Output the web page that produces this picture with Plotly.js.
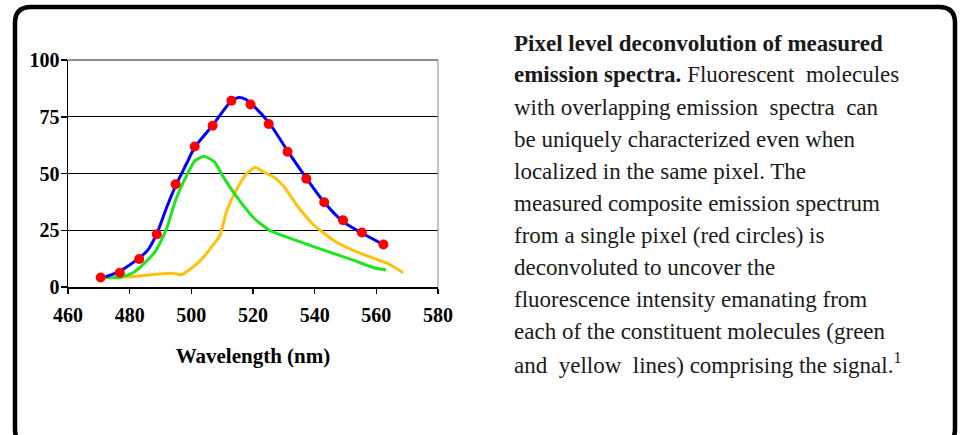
<!DOCTYPE html>
<html>
<head>
<meta charset="utf-8">
<script src="https://cdn.plot.ly/plotly-3.0.1.min.js"></script>
<style>html,body{margin:0;padding:0;background:#fff;}#chart{width:960px;height:435px;}</style>
</head>
<body>
<div id="chart"></div>
<script>
// Measured composite spectrum (red circles)
const measuredX = [470.6, 476.8, 483.1, 488.8, 494.9, 501.1, 506.9, 513.0, 519.2, 525.1, 531.2, 537.3, 543.1, 549.2, 555.3, 562.3];
const measuredY = [4.2, 6.3, 12.3, 23.2, 45.3, 61.9, 71.0, 82.1, 80.4, 71.8, 59.6, 47.7, 37.3, 29.4, 24.0, 18.7];

// Fitted composite (blue line)
const fitX = [472.2, 476.8, 483.1, 486.0, 488.8, 492.0, 494.9, 498.5, 501.1, 506.9, 513.0, 515.3, 517.5, 519.2, 525.1, 531.2, 537.3, 543.1, 549.2, 555.3, 562.3];
const fitY = [4.5, 7.0, 12.8, 16.5, 23.5, 35.0, 44.5, 54.5, 61.5, 71.2, 82.0, 83.5, 82.8, 81.0, 72.5, 60.0, 48.0, 37.3, 28.8, 23.8, 18.7];

// Component 1 (green line)
const greenX = [472.2, 476.8, 481.1, 484.4, 488.5, 492.0, 494.9, 498.5, 501.1, 504.1, 507.5, 510.4, 514.7, 520.2, 525.4, 531.0, 541.8, 552.7, 559.2, 563.2];
const greenY = [4.2, 4.2, 6.3, 10.0, 16.0, 25.8, 38.3, 49.2, 55.6, 57.6, 55.1, 48.4, 39.8, 30.5, 24.9, 22.0, 16.8, 11.7, 8.5, 7.5];

// Component 2 (yellow line)
const yellowX = [472.2, 480.1, 487.6, 494.1, 496.9, 499.6, 502.8, 506.1, 509.3, 511.5, 514.7, 518.0, 520.7, 523.4, 526.7, 529.9, 534.3, 539.7, 546.2, 552.7, 559.2, 563.5, 565.7, 568.7];
const yellowY = [4.5, 4.5, 5.5, 6.0, 5.5, 7.8, 11.5, 16.8, 22.8, 33.6, 43.0, 50.0, 52.8, 50.7, 48.4, 44.5, 35.9, 27.3, 20.5, 16.0, 12.6, 10.5, 8.8, 6.3];

const xTicks = [460, 480, 500, 520, 540, 560, 580];
const yTicks = [0, 25, 50, 75, 100];
const xTitle = "Wavelength (nm)";

const captionLines = [
  "<b>Pixel level deconvolution of measured</b>",
  "<b>emission spectra.</b> Fluorescent \u00A0molecules",
  "with overlapping emission \u00A0spectra \u00A0can",
  "be uniquely characterized even when",
  "localized in the same pixel. The",
  "measured composite emission spectrum",
  "from a single pixel (red circles) is",
  "deconvoluted to uncover the",
  "fluorescence intensity emanating from",
  "each of the constituent molecules (green",
  "and \u00A0yellow \u00A0lines) comprising the signal.<sup>1</sup>"
];

// geometry helpers (pixel -> paper)
const L = 68, T = 60, W = 370, H = 227;
const px = x => (x - L) / W;
const py = y => (T + H - y) / H;

const serif = "'Liberation Serif', 'Times New Roman', serif";

const traces = [
  {x: yellowX, y: yellowY, mode: 'lines', line: {color: '#FFC20E', width: 3, shape: 'spline', smoothing: 0.5}, hoverinfo: 'skip'},
  {x: greenX, y: greenY, mode: 'lines', line: {color: '#1EE61E', width: 3, shape: 'spline', smoothing: 0.5}, hoverinfo: 'skip'},
  {x: fitX, y: fitY, mode: 'lines', line: {color: '#0000FF', width: 3, shape: 'spline', smoothing: 0.8}, hoverinfo: 'skip'},
  {x: measuredX, y: measuredY, mode: 'markers', marker: {color: '#FF0000', size: 10}, hoverinfo: 'skip'}
];

// rounded border path
const bl = 15, br = 955, bt = 7, bb = 445, r = 16;
const P = (x, y) => px(x) + ',' + py(y);
const borderPath = 'M ' + P(bl, bt + r) + ' Q ' + P(bl, bt) + ' ' + P(bl + r, bt) +
  ' L ' + P(br - r, bt) + ' Q ' + P(br, bt) + ' ' + P(br, bt + r) +
  ' L ' + P(br, bb - r) + ' Q ' + P(br, bb) + ' ' + P(br - r, bb) +
  ' L ' + P(bl + r, bb) + ' Q ' + P(bl, bb) + ' ' + P(bl, bb - r) + ' Z';

const lineCenters = [43, 75, 107, 139, 171.5, 203.5, 235, 267, 299, 331, 363];
const annotations = captionLines.map((t, i) => ({
  xref: 'paper', yref: 'paper', x: px(512), y: py(lineCenters[i]),
  xanchor: 'left', yanchor: 'middle', showarrow: false, text: t, align: 'left',
  font: {family: serif, size: 23, color: '#1a1a1a'}
}));

const layout = {
  width: 960, height: 435,
  margin: {l: L, r: 960 - L - W, t: T, b: 435 - T - H},
  paper_bgcolor: '#ffffff', plot_bgcolor: '#ffffff',
  showlegend: false,
  xaxis: {
    range: [460, 580], tickvals: xTicks, ticktext: xTicks.map(String),
    showgrid: false, zeroline: false, showline: true, linecolor: '#000', linewidth: 1.5,
    ticks: 'outside', ticklen: 5, tickwidth: 1.5, tickcolor: '#000',
    ticklabelstandoff: 4,
    tickfont: {family: serif, size: 20, color: '#000', weight: 700},
    title: {text: xTitle, standoff: 24, font: {family: serif, size: 21, color: '#000', weight: 700}},
    fixedrange: true
  },
  yaxis: {
    range: [0, 100], tickvals: yTicks, ticktext: yTicks.map(String),
    showgrid: true, gridcolor: '#000', gridwidth: 1.3, zeroline: false,
    showline: true, linecolor: '#000', linewidth: 1.5,
    ticks: 'outside', ticklen: 6, tickwidth: 1.5, tickcolor: '#000',
    ticklabelstandoff: -3,
    tickfont: {family: serif, size: 20, color: '#000', weight: 700},
    fixedrange: true
  },
  shapes: [
    {type: 'line', xref: 'paper', yref: 'paper', x0: 0, x1: 1, y0: 1, y1: 1, line: {color: '#222', width: 1.2}},
    {type: 'line', xref: 'paper', yref: 'paper', x0: 1, x1: 1, y0: 0, y1: 1, line: {color: '#888', width: 1}},
    {type: 'path', xref: 'paper', yref: 'paper', path: borderPath, line: {color: '#000', width: 4.5}}
  ],
  annotations: annotations
};

Plotly.newPlot('chart', traces, layout, {staticPlot: true, displayModeBar: false});
</script>
</body>
</html>
